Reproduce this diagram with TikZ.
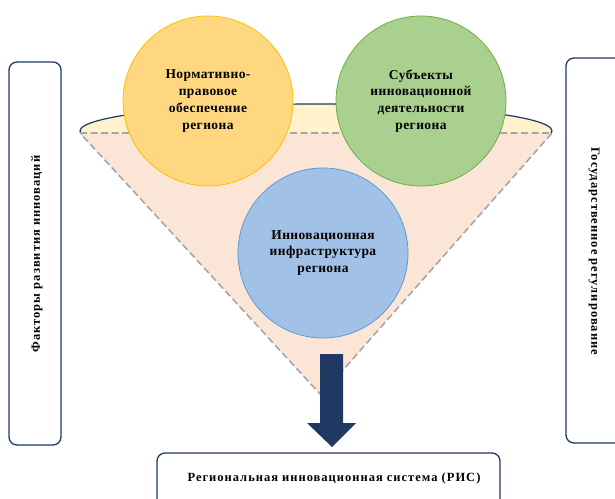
\documentclass[tikz,border=0pt]{standalone}
\usepackage{fontspec}
\setmainfont{Liberation Serif}
\begin{document}
\begin{tikzpicture}[x=1pt,y=-1pt,
  boxframe/.style={draw=navy,line width=1.3pt,rounded corners=8pt},
  circ/.style={circle,minimum size=170pt,inner sep=0pt,line width=0.8pt,align=center,
     font=\bfseries\fontsize{13.5}{16.8}\selectfont\addfontfeature{LetterSpace=3}},
  lbl/.style={font=\bfseries\fontsize{12.5}{14}\selectfont\addfontfeature{LetterSpace=8}}]
\definecolor{navy}{HTML}{1F3864}
\definecolor{arrowblue}{HTML}{203864}
\definecolor{ellfill}{HTML}{FFF2CC}
\definecolor{trifill}{HTML}{FBE5D6}
\definecolor{dashgray}{HTML}{A6A6A6}
\definecolor{orfill}{HTML}{FFD780}
\definecolor{ordraw}{HTML}{FFC000}
\definecolor{grfill}{HTML}{A9D08E}
\definecolor{grdraw}{HTML}{70AD47}
\definecolor{blfill}{HTML}{A2C1E6}
\definecolor{bldraw}{HTML}{5B9BD5}
\useasboundingbox (0,0) rectangle (615,498);
% funnel
\fill[ellfill,draw=navy,line width=1.2pt] (316,131) ellipse [x radius=236,y radius=27];
\coordinate (tl) at (80,133);
\coordinate (tr) at (552,133);
\coordinate (apex) at (321,395);
\fill[trifill] (tl) -- (tr) -- (apex) -- cycle;
\draw[dashgray,line width=1.6pt,dash pattern=on 7pt off 3.5pt] (tl) -- (tr) -- (apex) -- cycle;
% circles
\node[circ,fill=orfill,draw=ordraw] (c1) at (208,101) {Нормативно-\\правовое\\обеспечение\\региона};
\node[circ,fill=grfill,draw=grdraw] (c2) at (421,101) {Субъекты\\инновационной\\деятельности\\региона};
\node[circ,fill=blfill,draw=bldraw] (c3) at (323,253) {Инновационная\\инфраструктура\\региона};
% arrow
\fill[arrowblue] (320,354) -- (343,354) -- (343,423) -- (356,423) -- (332,447) -- (307,423) -- (320,423) -- cycle;
% boxes
\draw[boxframe] (9,62) rectangle (61,445);
\node[lbl,rotate=90] (lt) at (37,254) {Факторы развития инноваций};
\draw[boxframe] (566,58) rectangle (625,443);
\node[lbl,rotate=-90] (rt) at (594,251) {Государственное регулирование};
\draw[boxframe] (157,453) rectangle (500,510);
\node[lbl] (bt) at (334,478) {Региональная инновационная система (РИС)};
\end{tikzpicture}
\end{document}
